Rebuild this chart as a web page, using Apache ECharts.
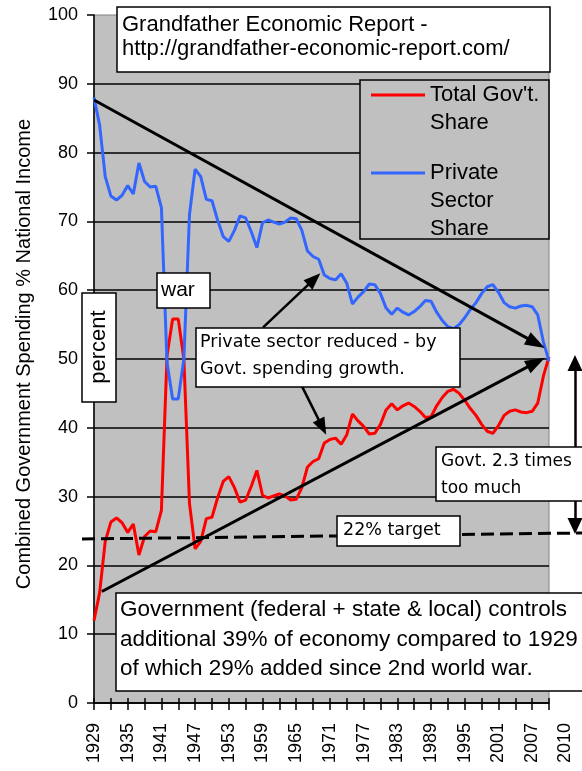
<!DOCTYPE html>
<html><head><meta charset="utf-8">
<script src="https://cdn.jsdelivr.net/npm/echarts@6/dist/echarts.min.js"></script>
<style>html,body{margin:0;padding:0;background:#fff}#c{width:582px;height:771px}</style>
</head><body><div id="c"></div>
<script>
// ---- data ----
const years = [1929,1930,1931,1932,1933,1934,1935,1936,1937,1938,1939,1940,1941,1942,1943,1944,1945,1946,1947,1948,1949,1950,1951,1952,1953,1954,1955,1956,1957,1958,1959,1960,1961,1962,1963,1964,1965,1966,1967,1968,1969,1970,1971,1972,1973,1974,1975,1976,1977,1978,1979,1980,1981,1982,1983,1984,1985,1986,1987,1988,1989,1990,1991,1992,1993,1994,1995,1996,1997,1998,1999,2000,2001,2002,2003,2004,2005,2006,2007,2008,2009,2010];
const govShare = [12,16,23.5,26.3,26.9,26.2,24.8,26,21.5,24.2,25,24.9,28,50.5,55.8,55.8,50,29,22.4,23.5,26.8,27,29.8,32.2,32.9,31.3,29.2,29.5,31.5,33.8,30.2,29.8,30.1,30.4,30.1,29.5,29.6,31.3,34.3,35.1,35.5,37.8,38.3,38.5,37.6,39,42,41,40.2,39.1,39.2,40.5,42.6,43.5,42.6,43.2,43.6,43.1,42.4,41.5,41.6,43.2,44.4,45.3,45.6,45,44,42.8,41.8,40.5,39.5,39.2,40.3,41.8,42.4,42.6,42.3,42.2,42.4,43.6,47.5,50.3];
const privateShare = [88,84,76.5,73.7,73.1,73.8,75.2,74,78.5,75.8,75,75.1,72,49.5,44.2,44.2,50,71,77.6,76.5,73.2,73,70.2,67.8,67.1,68.7,70.8,70.5,68.5,66.2,69.8,70.2,69.9,69.6,69.9,70.5,70.4,68.7,65.7,64.9,64.5,62.2,61.7,61.5,62.4,61,58,59,59.8,60.9,60.8,59.5,57.4,56.5,57.4,56.8,56.4,56.9,57.6,58.5,58.4,56.8,55.6,54.7,54.4,55,56,57.2,58.2,59.5,60.5,60.8,59.7,58.2,57.6,57.4,57.7,57.8,57.6,56.4,52.5,49.7];
const xLabelYears = [1929,1935,1941,1947,1953,1959,1965,1971,1977,1983,1989,1995,2001,2007];
const seriesNames = ["Total Gov't. Share", "Private Sector Share"];
// leading blank lines keep the sample line level with the first text line
const legendLabels = {"Total Gov't. Share": " \nTotal Gov't.\nShare", "Private Sector Share": " \n \nPrivate\nSector\nShare"};

const ARIAL = '"Liberation Sans", Arial, sans-serif';
const DEJAVU = '"DejaVu Sans", sans-serif';

const chart = echarts.init(document.getElementById('c'), null, {renderer: 'canvas'});

function legendCfg(name, top) {
  return {
    data: [name], left: 371, top: top, orient: 'vertical', padding: 0,
    itemWidth: 54, itemHeight: 3, icon: 'rect', selectedMode: false, z: 20,
    formatter: n => legendLabels[n],
    textStyle: {fontSize: 22, lineHeight: 28, fontFamily: ARIAL, color: '#000'}
  };
}

function box(x, y, w, h) {
  return {type: 'rect', z: 30, shape: {x: x, y: y, width: w, height: h},
    style: {fill: '#fff', stroke: '#000', lineWidth: 1.5}};
}
function txt(x, y, text, size, family, extra) {
  return Object.assign({type: 'text', z: 31, x: x, y: y,
    style: Object.assign({text: text, fontSize: size, fontFamily: family, fill: '#000',
      align: 'left', verticalAlign: 'middle'}, (extra && extra.style) || {})},
    extra ? {rotation: extra.rotation || 0} : {});
}

const option = {
  animation: false,
  backgroundColor: '#fff',
  grid: {left: 94, right: 33, top: 15, bottom: 68, show: true,
    backgroundColor: '#c0c0c0', borderColor: '#808080', borderWidth: 1},
  xAxis: [{
    type: 'value', min: 1929, max: 2010, interval: 3,
    axisLine: {lineStyle: {color: '#000', width: 1.5}},
    axisTick: {length: 7, lineStyle: {color: '#000', width: 1.5}},
    axisLabel: {rotate: 90, margin: 20, fontSize: 18, color: '#000', fontFamily: ARIAL,
      formatter: v => xLabelYears.indexOf(v) >= 0 ? String(v) : ''},
    splitLine: {show: false}
  }, {
    type: 'value', min: 1929, max: 2010, interval: 3, position: 'bottom',
    axisLine: {show: false},
    axisTick: {inside: true, length: 5, lineStyle: {color: '#000', width: 1.5}},
    axisLabel: {show: false}, splitLine: {show: false}
  }],
  yAxis: {
    type: 'value', min: 0, max: 100, interval: 10,
    name: 'Combined Government Spending % National Income',
    nameLocation: 'middle', nameGap: 60, nameMoveOverlap: false,
    nameTextStyle: {fontSize: 20, fontFamily: ARIAL, color: '#000', padding: [0, 0, 0, 10]},
    axisLine: {show: true, lineStyle: {color: '#000', width: 1.5}},
    axisTick: {show: true, length: 7, lineStyle: {color: '#000', width: 1.5}},
    axisLabel: {fontSize: 18, margin: 16, color: '#000', fontFamily: ARIAL},
    splitLine: {show: true, showMaxLine: false, lineStyle: {color: '#000', width: 1.5}}
  },
  legend: [legendCfg(seriesNames[0], 53), legendCfg(seriesNames[1], 103)],
  series: [
    {name: seriesNames[0], type: 'line', data: years.map((y, i) => [y, govShare[i]]),
      symbol: 'none', showSymbol: false, z: 3,
      lineStyle: {color: '#ff0000', width: 3}, itemStyle: {color: '#ff0000'}},
    {name: seriesNames[1], type: 'line', data: years.map((y, i) => [y, privateShare[i]]),
      symbol: 'none', showSymbol: false, z: 4,
      lineStyle: {color: '#3366ff', width: 3}, itemStyle: {color: '#3366ff'}},
    {name: 'annotations', type: 'line', data: [], z: 6, silent: true,
      markLine: {
        silent: true, animation: false, label: {show: false}, emphasis: {disabled: true},
        symbol: ['none', 'triangle'], symbolSize: [13, 20],
        lineStyle: {color: '#000', width: 3, type: 'solid'},
        data: [
          [{coord: [1929, 87.65], symbol: 'none'}, {coord: [2007.7, 52.3], symbol: 'triangle', symbolSize: [14, 20]}],
          [{coord: [1930.4, 16.2], symbol: 'none'}, {coord: [2007.7, 49.5], symbol: 'triangle', symbolSize: [14, 20]}],
          [{coord: [1959.1, 54.6], symbol: 'none', lineStyle: {width: 2.5}}, {coord: [1968.2, 61.6], symbol: 'triangle', symbolSize: [13, 17], lineStyle: {width: 2.5}}],
          [{coord: [1965.98, 46.1], symbol: 'none', lineStyle: {width: 2.5}}, {coord: [1969.66, 40.1], symbol: 'triangle', symbolSize: [13, 17], lineStyle: {width: 2.5}}],
          [{x: 82, y: 539, symbol: 'none', lineStyle: {type: [13, 6], width: 3}}, {x: 582, y: 533, symbol: 'none', lineStyle: {type: [13, 6], width: 3}}],
          [{x: 575, y: 363, symbol: 'triangle', symbolSize: [15, 16], lineStyle: {width: 2.5}}, {x: 575, y: 526, symbol: 'triangle', symbolSize: [15, 16], lineStyle: {width: 2.5}}]
        ]
      }}
  ],
  graphic: [
    // legend frame
    {type: 'rect', z: 15, shape: {x: 360, y: 80, width: 189, height: 159},
      style: {fill: '#c0c0c0', stroke: '#000', lineWidth: 1.5}},
    // title box
    box(117, 7, 433, 65),
    txt(122, 25, 'Grandfather Economic Report -', 22, ARIAL),
    txt(122, 49, 'http://grandfather-economic-report.com/', 22, ARIAL),
    // war
    box(157, 273, 53, 35),
    txt(161, 290, 'war', 21, ARIAL),
    // percent
    box(82, 293, 34, 109),
    txt(99, 347, 'percent', 22, ARIAL, {rotation: Math.PI / 2, style: {align: 'center'}}),
    // private sector note
    box(196, 328, 264, 59),
    txt(200, 342, 'Private sector reduced - by', 17.5, DEJAVU),
    txt(200, 369, 'Govt. spending growth.', 17.5, DEJAVU),
    // target
    box(337, 516, 123, 30),
    txt(343, 530, '22% target', 17.5, DEJAVU),
    // govt too much
    box(436, 447, 160, 54),
    txt(441, 462, 'Govt. 2.3 times', 17, DEJAVU),
    txt(441, 489, 'too much', 17, DEJAVU),
    // bottom note
    box(116, 593, 480, 98),
    txt(120, 610, 'Government (federal + state & local) controls', 22.5, ARIAL),
    txt(120, 639.5, 'additional 39% of economy compared to 1929', 22.5, ARIAL),
    txt(120, 668.5, 'of which 29% added since 2nd world war.', 22.5, ARIAL),
    // extra axis label
    txt(565, 723, '2010', 18, ARIAL, {rotation: Math.PI / 2, style: {align: 'right'}})
  ]
};
chart.setOption(option);
</script>
</body></html>
